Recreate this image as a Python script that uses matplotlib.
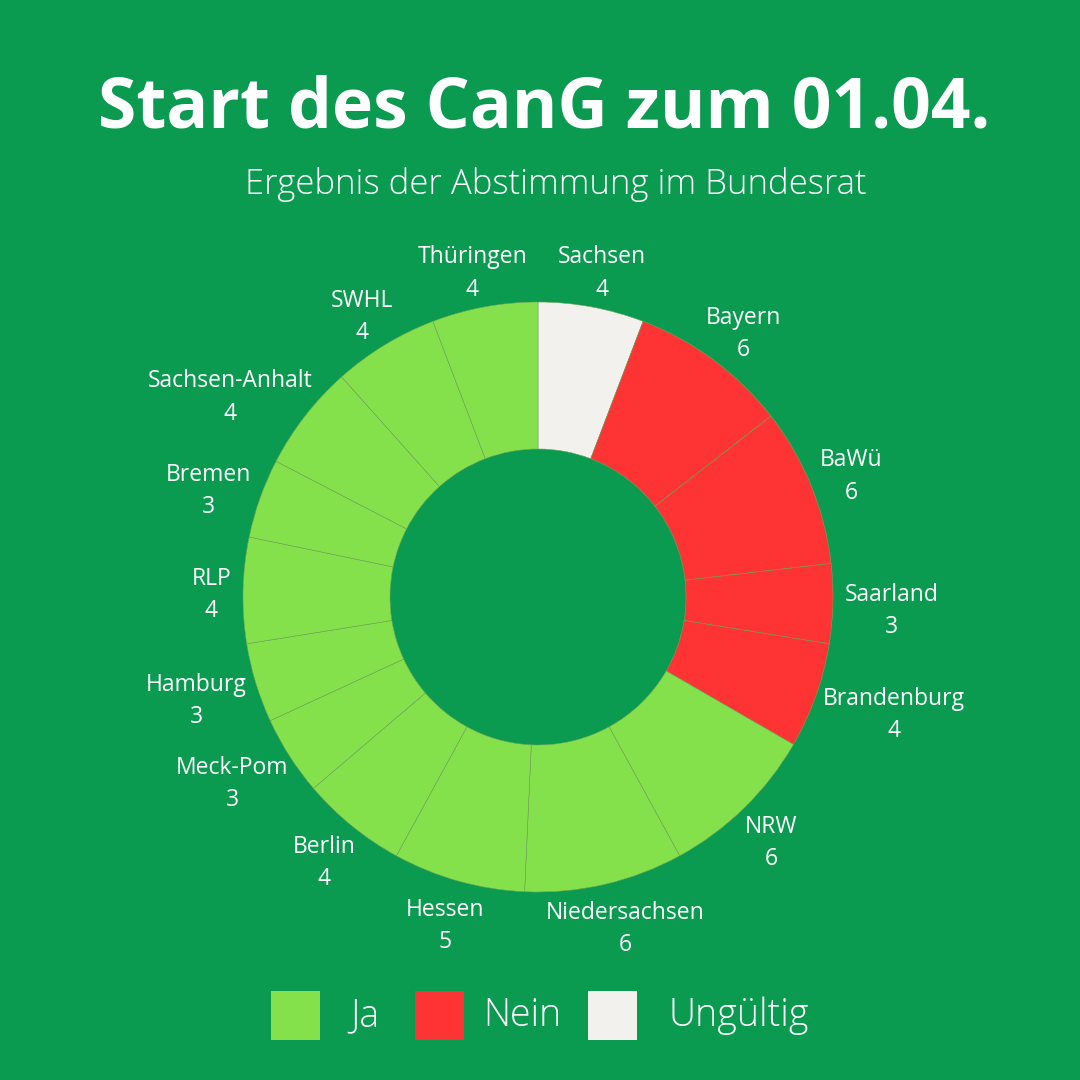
import numpy as np
import matplotlib
matplotlib.use("Agg")
from matplotlib import pyplot as plt
from matplotlib.patches import Rectangle

# data
states = ["Sachsen", "Bayern", "BaWü", "Saarland", "Brandenburg", "NRW",
          "Niedersachsen", "Hessen", "Berlin", "Meck-Pom", "Hamburg", "RLP",
          "Bremen", "Sachsen-Anhalt", "SWHL", "Thüringen"]
votes = [4, 6, 6, 3, 4, 6, 6, 5, 4, 3, 3, 4, 3, 4, 4, 4]
result = ["Ungültig", "Nein", "Nein", "Nein", "Nein", "Ja", "Ja", "Ja", "Ja",
          "Ja", "Ja", "Ja", "Ja", "Ja", "Ja", "Ja"]
legend_labels = ["Ja", "Nein", "Ungültig"]

bg = "#0A9A50"
colmap = {"Ja": "#85E14B", "Nein": "#FE3434", "Ungültig": "#F2F1ED"}

fig = plt.figure(figsize=(10.8, 10.8), dpi=100, facecolor=bg)
ax = fig.add_axes([0, 0, 1, 1])

cx, cy = 538, 483
R, r_in = 295, 148
ax.pie(votes, colors=[colmap[v] for v in result], startangle=90, counterclock=False,
       center=(cx, cy), radius=R, frame=True,
       wedgeprops=dict(width=R - r_in, edgecolor="#74a35a", linewidth=0.4))
ax.set_xlim(0, 1080)
ax.set_ylim(0, 1080)
ax.set_aspect("equal")
ax.axis("off")

fig.text(0.504, 1 - 110 / 1080, "Start des CanG zum 01.04.", ha="center", va="center",
         color="white", fontsize=50, fontweight="bold", family="Open Sans")
fig.text(0.515, 1 - 184 / 1080, "Ergebnis der Abstimmung im Bundesrat", ha="center",
         va="center", color="white", fontsize=25, fontweight="light", family="Open Sans")

# outside labels
total = sum(votes)
cum = np.cumsum([0] + votes)
texts = []
for s, v in zip(states, votes):
    t = ax.text(0, 0, f"{s}\n{v}", ha="center", va="center", color="white",
                fontsize=16.5, family="Open Sans", linespacing=1.45)
    texts.append(t)
fig.canvas.draw()
rend = fig.canvas.get_renderer()
R0 = R + 12
for i, t in enumerate(texts):
    mid = (cum[i] + votes[i] / 2) / total * 2 * np.pi
    ux, uy = np.sin(mid), np.cos(mid)
    bb = t.get_window_extent(rend)
    hw, hh = bb.width / 2, bb.height / 2
    t.set_position((cx + R0 * ux + hw * ux, cy + R0 * uy + hh * uy - 6))

# legend
sq = 49
items = [(271, 350), (415, 483), (588, 668)]
for (x0, tx), lab in zip(items, legend_labels):
    ax.add_patch(Rectangle((x0, 1080 - 1040), sq, sq, facecolor=colmap[lab], edgecolor="none"))
    ax.text(tx, 1080 - 1016, lab, ha="left", va="center", color="white", fontsize=27,
            fontweight="light", family="Open Sans")

fig.savefig("out.png", dpi=100, facecolor=bg)
